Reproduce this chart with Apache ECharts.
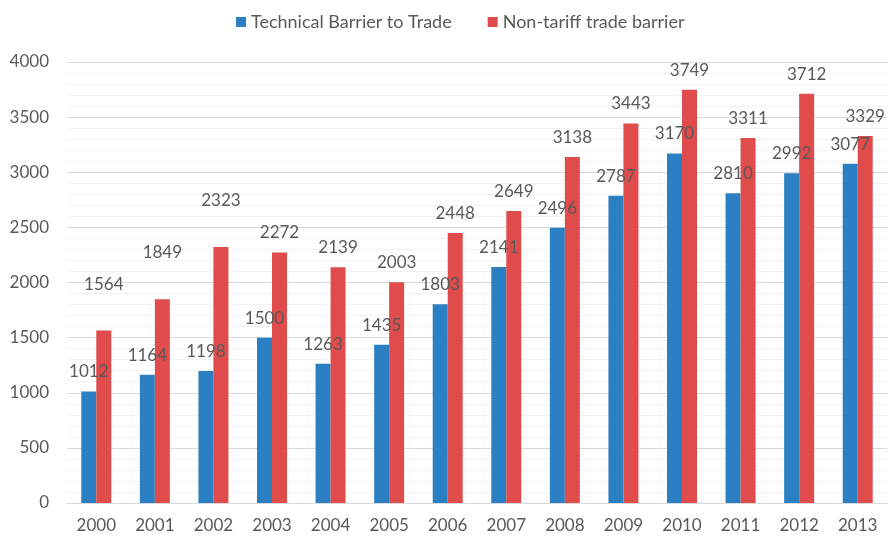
<!DOCTYPE html>
<html>
<head>
<meta charset="utf-8">
<script src="https://cdn.jsdelivr.net/npm/echarts@6/dist/echarts.min.js"></script>
<style>
  html, body { margin: 0; padding: 0; background: #fff; }
  #main { width: 888px; height: 537px; }
</style>
</head>
<body>
<div id="main"></div>
<script>
const years = ['2000', '2001', '2002', '2003', '2004', '2005', '2006', '2007', '2008', '2009', '2010', '2011', '2012', '2013']
const tbt = [1012, 1164, 1198, 1500, 1263, 1435, 1803, 2141, 2496, 2787, 3170, 2810, 2992, 3077]
const ntb = [1564, 1849, 2323, 2272, 2139, 2003, 2448, 2649, 3138, 3443, 3749, 3311, 3712, 3329]
// red labels that Excel nudged upward
const raisedLabels = [0, 1, 2]

const font = 'Lato, "Open Sans", sans-serif'
const chart = echarts.init(document.getElementById('main'))

const labelStyle = {
  show: true,
  position: 'top',
  distance: 11,
  fontFamily: font,
  fontSize: 17,
  color: '#595959'
}

chart.setOption({
  animation: false,
  legend: {
    top: 8,
    left: 231,
    itemWidth: 10,
    itemHeight: 10,
    itemGap: 36,
    icon: 'rect',
    textStyle: { fontFamily: font, fontSize: 18, color: '#595959' }
  },
  grid: { left: 67, right: 1, top: 62, bottom: 34, containLabel: false },
  xAxis: {
    type: 'category',
    data: years,
    axisLine: { lineStyle: { color: '#d9d9d9' } },
    axisTick: { show: false },
    axisLabel: { fontFamily: font, fontSize: 17, color: '#595959', margin: 14 }
  },
  yAxis: {
    type: 'value',
    min: 0,
    max: 4000,
    interval: 500,
    axisLine: { show: false },
    axisTick: { show: false },
    axisLabel: { fontFamily: font, fontSize: 17, color: '#595959', margin: 18, formatter: v => String(v) },
    splitLine: { lineStyle: { color: '#d9d9d9' } },
    minorTick: { show: false, splitNumber: 5 },
    minorSplitLine: { show: true, lineStyle: { color: '#f2f2f2' } }
  },
  series: [
    {
      name: 'Technical Barrier to Trade',
      type: 'bar',
      data: tbt,
      barWidth: 15,
      barGap: '0%',
      itemStyle: { color: '#2a80c2' },
      label: labelStyle,
      z: 2
    },
    {
      name: 'Non-tariff trade barrier',
      type: 'bar',
      data: ntb.map((v, i) => raisedLabels.includes(i)
        ? { value: v, label: { distance: 38 } }
        : v),
      barWidth: 15,
      itemStyle: { color: '#e04c4c' },
      label: labelStyle,
      z: 2
    }
  ]
})
</script>
</body>
</html>
